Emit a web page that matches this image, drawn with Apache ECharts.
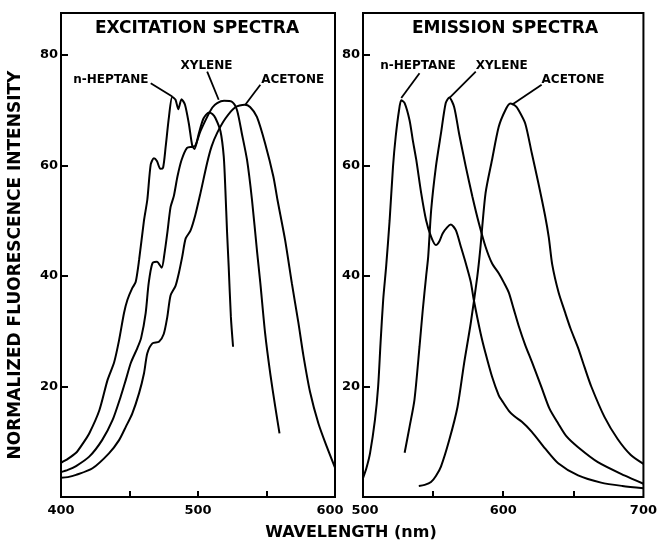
<!DOCTYPE html>
<html>
<head>
<meta charset="utf-8">
<script src="https://cdn.jsdelivr.net/npm/echarts@6/dist/echarts.min.js"></script>
<style>html,body{margin:0;padding:0;background:#fff;}#c{width:660px;height:542px;}</style>
</head>
<body>
<div id="c"></div>
<script>
// ---------- Data (wavelength nm, normalized intensity) ----------
const exHeptane = [[400,6.2],[405,6.9],[411,8.0],[416,9.7],[420.6,11.5],[428,15.7],[434,21.2],[438.8,24.4],[442.4,28.4],[446,33.3],[448.5,35.7],[452,37.8],[454.5,38.9],[457,42.9],[460.6,50.1],[463,53.8],[465.5,60.2],[467.8,61.3],[470,60.8],[472.5,59.4],[474.5,59.6],[476.4,63.4],[478.8,68.8],[481.2,72.4],[483.6,71.9],[485.6,70.2],[488,72.0],[490.5,71.0],[493.3,67.6],[495.8,63.6],[497.5,63.0],[500.5,65.7],[504,68.5],[508,69.6],[510.5,69.3],[512.7,68.6],[516.4,66.2],[518.8,61.6],[520,55.5],[521.2,48],[522.4,41.7],[524,32.6],[525.6,27.2]];
const exXylene = [[400,4.5],[405,4.9],[411,5.6],[420.6,7.3],[430,10.3],[437.6,13.9],[443.6,18.2],[447.3,21.2],[451,24.3],[455.8,27],[458.5,28.8],[461.8,33.3],[464,38.7],[466.7,42.3],[470,42.6],[473.5,41.5],[475.5,44],[477.6,47.8],[480,52.5],[482.4,54.5],[485,58],[488,61],[492,63.2],[495.8,63.4],[498,63.6],[501.8,66.2],[506.7,68.8],[510.5,70.5],[514,71.3],[519,71.7],[525,71.5],[528.5,70],[532,65.8],[535.8,61],[539.4,53.8],[543,44.7],[545.5,38.7],[549,29.6],[552.7,22.4],[556.4,16.3],[559.5,11.5]];
const exAcetone = [[400,3.5],[405,3.6],[411,4.0],[423,5.2],[435,7.9],[442.4,10.3],[447.3,12.7],[452,15.1],[457,18.8],[460.6,22.4],[463,26],[466.7,27.8],[471.5,28.1],[475,29.5],[477.6,32.6],[480,36.5],[483.6,38.2],[486,40.5],[488.5,43.5],[491,46.8],[494.5,48.2],[498,51],[501.8,55],[506.7,60.5],[510,63.5],[514,65.9],[520,68.5],[527,70.5],[534,71],[538,70.6],[543,68.8],[549,64],[555,58],[558,53.8],[563.6,46.5],[568.5,38.7],[573.3,31.5],[577,25.5],[581.8,19],[587.9,13.3],[594,9.1],[600,5.3]];

const emHeptane = [[500,3.4],[502.5,5.3],[505,7.9],[508.5,13.9],[510.8,20],[512.5,27.8],[514.4,35.7],[516.5,41.7],[519,50.1],[521.4,59.8],[523.3,65.2],[525.7,70],[527.3,71.8],[529.7,71.3],[533.2,68.2],[535.5,64.6],[538,61],[541.5,55],[545,50.1],[548.6,47.1],[552,45.6],[554.5,46.3],[556.8,47.7],[560,48.8],[562.7,49.3],[566.2,48.3],[569.8,45.3],[573.3,42.3],[576.8,39],[579,35.7],[583.9,29.6],[587.4,26],[592,21.8],[596.8,18.4],[599.2,17.4],[604,15.6],[608,14.6],[613.3,13.6],[620.4,11.8],[629.8,8.8],[639.2,6.1],[653.4,3.9],[669.8,2.6],[685,2.0],[700,1.6]];
const emXylene = [[529.7,8.0],[533.2,12.7],[536.7,17.6],[540.3,27.2],[542.6,33.8],[545,39.9],[546.5,43.5],[548.6,51.9],[552,59.8],[555.6,65.8],[559,71.3],[561.5,72.3],[565,70.6],[568.5,65.8],[573.3,59.8],[578,54.4],[582.7,49.5],[587.4,45.3],[592,42.3],[596.8,40.5],[600.5,38.8],[604,37],[607.5,34],[611,31],[615.7,27.5],[620.4,24.5],[627.4,19.8],[633,16],[639.2,13.3],[645,11.0],[653.4,9.0],[667.5,6.3],[686.4,3.9],[700,2.4]];
const emAcetone = [[539.8,2.0],[544,2.2],[548.5,2.7],[552,3.8],[555.6,5.5],[561.5,10.3],[567.4,16.3],[572.1,24.2],[576.8,31.4],[581.5,39.9],[583.5,44.5],[587.4,55],[592,61],[596.8,67],[601.5,70],[605,71.2],[608.6,70.8],[611,70],[615.7,67.6],[620.4,62.2],[625.1,56.8],[629.8,51],[632.5,47],[635,42],[639.5,37],[644,33.5],[648,30.5],[653.4,27],[658,23.5],[662.8,20],[672.2,14.5],[681.6,10.5],[691,7.6],[700,6.0]];

// axis ticks / labels
const exXTicks = [450,500,550];
const exXLabels = [400,500,600];
const emXTicks = [550,600,650];
const emXLabels = [500,600,700];
const yTicks = [20,40,60,80];

// annotations (data coordinates)
const seriesNames = ['n-HEPTANE','XYLENE','ACETONE'];
const exLabelPos = [[436.4,75.5],[506.2,78],[569.1,75.5]];
const exLeaders = [[[465.5,74.9],[481.2,72.5]],[[506.7,77],[515.1,71.9]],[[545.5,74.6],[534.5,71]]];
const emLabelPos = [[539.2,78],[598.9,78],[649.8,75.5]];
const emLeaders = [[[540.3,76.7],[527.3,72.2]],[[580.4,77],[561.5,72.2]],[[627.4,74.6],[606.2,71]]];

const panelTitles = ['EXCITATION SPECTRA','EMISSION SPECTRA'];
const xTitle = 'WAVELENGTH (nm)';
const yTitle = 'NORMALIZED FLUORESCENCE INTENSITY';

// ---------- Chart ----------
const FONT = 'DejaVu Sans';
const chart = echarts.init(document.getElementById('c'), null, {renderer:'canvas'});

function xAxisCfg(gi, min, max, ticks, labels, fmt){
  return {gridIndex:gi, type:'value', min:min, max:max,
    axisLine:{show:false}, splitLine:{show:false},
    axisTick:{show:true, inside:true, length:6, customValues:ticks, lineStyle:{color:'#000',width:2}},
    axisLabel:{show:true, customValues:labels, color:'#000', fontFamily:FONT, fontWeight:'bold', fontSize:13, margin:7,
      formatter:fmt,
      rich:{l:{padding:[0,10,0,0], color:'#000', fontFamily:FONT, fontWeight:'bold', fontSize:13},
            r:{padding:[0,0,0,4], color:'#000', fontFamily:FONT, fontWeight:'bold', fontSize:13}}}};
}
function yAxisCfg(gi){
  return {gridIndex:gi, type:'value', min:0, max:87.6,
    axisLine:{show:false}, splitLine:{show:false},
    axisTick:{show:true, inside:true, length:7, customValues:yTicks, lineStyle:{color:'#000',width:2}},
    axisLabel:{show:true, customValues:yTicks, color:'#000', fontFamily:FONT, fontWeight:'bold', fontSize:13, margin:3}};
}
function curve(data, gi){
  return {type:'line', xAxisIndex:gi, yAxisIndex:gi, data:data, smooth:0.25, showSymbol:false, symbol:'none',
    lineStyle:{color:'#000', width:2}, itemStyle:{color:'#000'}, z:3};
}
function leader(pts, gi){
  return {type:'line', xAxisIndex:gi, yAxisIndex:gi, data:pts, showSymbol:false, symbol:'none',
    lineStyle:{color:'#000', width:1.8}, itemStyle:{color:'#000'}, z:4};
}

const series = [
  curve(exHeptane,0), curve(exXylene,0), curve(exAcetone,0),
  curve(emHeptane,1), curve(emXylene,1), curve(emAcetone,1)
];
exLeaders.forEach(l=>series.push(leader(l,0)));
emLeaders.forEach(l=>series.push(leader(l,1)));

const fixedGraphics = [
  {type:'text', x:197, y:29, style:{text:panelTitles[0], align:'center', verticalAlign:'middle', font:'bold 17px "DejaVu Sans"', fill:'#000'}},
  {type:'text', x:505, y:29, style:{text:panelTitles[1], align:'center', verticalAlign:'middle', font:'bold 17px "DejaVu Sans"', fill:'#000'}},
  {type:'text', x:351, y:533, style:{text:xTitle, align:'center', verticalAlign:'middle', font:'bold 16px "DejaVu Sans"', fill:'#000'}},
  {type:'text', x:16, y:265, rotation:Math.PI/2, style:{text:yTitle, align:'center', verticalAlign:'middle', font:'bold 17px "DejaVu Sans"', fill:'#000'}}
];

chart.setOption({
  animation:false,
  backgroundColor:'#fff',
  grid:[
    {left:61, top:13, width:274, height:484, show:true, borderColor:'#000', borderWidth:2, backgroundColor:'rgba(0,0,0,0)'},
    {left:363, top:13, width:283, height:484, show:true, borderColor:'#000', borderWidth:2, backgroundColor:'rgba(0,0,0,0)'}
  ],
  xAxis:[
    xAxisCfg(0,400,600,exXTicks,exXLabels,(v)=> v===600 ? '{l|600}' : String(v)),
    xAxisCfg(1,500,700,emXTicks,emXLabels,(v)=> v===500 ? '{r|500}' : String(v))
  ],
  yAxis:[yAxisCfg(0), yAxisCfg(1)],
  series:series,
  graphic:fixedGraphics
});

// annotation labels placed at data coordinates
const labelGraphics = [];
[[exLabelPos,0],[emLabelPos,1]].forEach(([pos,gi])=>{
  pos.forEach((p,i)=>{
    const px = chart.convertToPixel({gridIndex:gi}, p);
    labelGraphics.push({type:'text', x:px[0], y:px[1], z:10,
      style:{text:seriesNames[i], align:'center', verticalAlign:'middle', font:'bold 12px "DejaVu Sans"', fill:'#000'}});
  });
});
chart.setOption({graphic:fixedGraphics.concat(labelGraphics)});
</script>
</body>
</html>
